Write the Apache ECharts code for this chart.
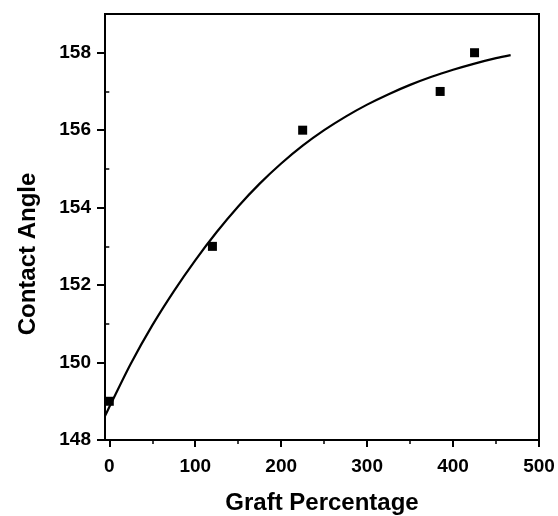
<!DOCTYPE html>
<html>
<head>
<meta charset="utf-8">
<script src="https://cdn.jsdelivr.net/npm/echarts@6/dist/echarts.min.js"></script>
<style>html,body{margin:0;padding:0;background:#fff;}#c{width:558px;height:516px;}</style>
</head>
<body>
<div id="c"></div>
<script>
// Measured points
const graftPct = [0, 120, 225, 385, 425];
const contactAngle = [149, 153, 156, 157, 158];
// Fitted curve
const fitX = [-5, 0, 25, 50, 75, 100, 125, 150, 175, 200, 225, 250, 275, 300, 325, 350, 375, 400, 425, 450, 467];
const fitY = [148.62, 148.85, 149.97, 150.96, 151.84, 152.64, 153.37, 154.03, 154.62, 155.14, 155.60, 156.00, 156.35, 156.66, 156.93, 157.17, 157.38, 157.56, 157.72, 157.86, 157.94];
// Tick values
const xMajor = [0, 100, 200, 300, 400, 500];
const xMinor = [50, 150, 250, 350, 450];
const yMajor = [148, 150, 152, 154, 156, 158];
const yMinor = [149, 151, 153, 155, 157];

const font = 'Liberation Sans, Arial, sans-serif';
const chart = echarts.init(document.getElementById('c'));
const baseX = {type:'value', min:-5, max:500, splitLine:{show:false}};
const baseY = {type:'value', min:148, max:159, splitLine:{show:false}};
chart.setOption({
  animation:false,
  backgroundColor:'#fff',
  grid:{left:105, right:19, top:14, bottom:76, outerBoundsMode:'none', containLabel:false, show:true, borderColor:'#000', borderWidth:2, backgroundColor:'transparent'},
  xAxis:[
    Object.assign({}, baseX, {
      name:'Graft Percentage', nameLocation:'middle', nameGap:51,
      nameTextStyle:{fontFamily:font, fontWeight:'bold', fontSize:24, color:'#000'},
      axisLine:{onZero:false, lineStyle:{color:'#000', width:2}},
      axisTick:{show:true, inside:false, length:7, lineStyle:{color:'#000', width:2}, customValues:xMajor},
      axisLabel:{fontFamily:font, fontWeight:'bold', fontSize:19, color:'#000', margin:17, customValues:xMajor}
    }),
    Object.assign({}, baseX, {
      position:'bottom',
      axisLine:{show:false},
      axisTick:{show:true, inside:false, length:4, lineStyle:{color:'#000', width:1.5}, customValues:xMinor},
      axisLabel:{show:false}
    })
  ],
  yAxis:[
    Object.assign({}, baseY, {
      name:'Contact Angle', nameLocation:'middle', nameGap:65,
      nameTextStyle:{fontFamily:font, fontWeight:'bold', fontSize:24, color:'#000', padding:[0,54,0,0]},
      axisLine:{onZero:false, lineStyle:{color:'#000', width:2}},
      axisTick:{show:true, inside:false, length:8, lineStyle:{color:'#000', width:2}, customValues:yMajor},
      axisLabel:{fontFamily:font, fontWeight:'bold', fontSize:19, color:'#000', margin:14, customValues:yMajor}
    }),
    Object.assign({}, baseY, {
      position:'left',
      axisLine:{show:false},
      axisTick:{show:true, inside:false, length:4, lineStyle:{color:'#000', width:1.5}, customValues:yMinor},
      axisLabel:{show:false}
    })
  ],
  series:[
    {type:'line', data:fitX.map((x,i)=>[x, fitY[i]]), smooth:0.3, showSymbol:false, symbol:'none',
     lineStyle:{color:'#000', width:2.2}, xAxisIndex:0, yAxisIndex:0, z:2},
    {type:'scatter', data:graftPct.map((x,i)=>[x, contactAngle[i]]), symbol:'rect', symbolSize:9,
     itemStyle:{color:'#000', opacity:1}, xAxisIndex:0, yAxisIndex:0, z:3}
  ]
});
</script>
</body>
</html>
